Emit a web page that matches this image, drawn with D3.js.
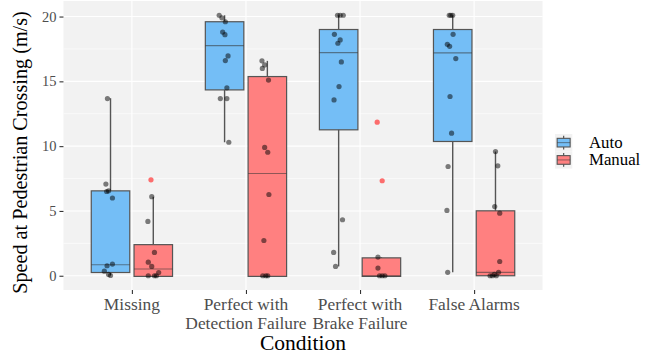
<!DOCTYPE html>
<html>
<head>
<meta charset="utf-8">
<style>
  body { margin: 0; background: #ffffff; }
  svg { display: block; }
  text { font-family: "Liberation Serif", "Times New Roman", serif; }
</style>
</head>
<body>
<div id="graph_div"></div>
<script src="https://d3js.org/d3.v7.min.js"></script>
<script>
// categories and groups
var conditions = ["Missing", "Perfect with Detection Failure", "Perfect with Brake Failure", "False Alarms"];
var tickLabels = [["Missing"], ["Perfect with", "Detection Failure"], ["Perfect with", "Brake Failure"], ["False Alarms"]];
var groups = ["Auto", "Manual"];
var yTicks = [0, 5, 10, 15, 20];
var yMinor = [2.5, 7.5, 12.5, 17.5];

// box statistics (one value per condition)
var autoLow  = [0.05, 10.3, 0.72, 0.26];
var autoQ1   = [0.25, 14.34, 11.26, 10.36];
var autoMed  = [0.85, 17.76, 17.22, 17.2];
var autoQ3   = [6.55, 19.6, 19.0, 19.0];
var autoHigh = [13.7, 20.1, 20.1, 20.1];

var manualLow  = [0, 0, 0, 0];
var manualQ1   = [-0.05, -0.05, -0.05, 0];
var manualMed  = [0.52, 7.89, 0, 0.26];
var manualQ3   = [2.4, 15.37, 1.38, 5.01];
var manualHigh = [6.1, 16.58, 1.44, 9.58];

// jittered observations: [value, jitter as share of box width]
var autoPoints = [
  [[13.67,-0.08],[7.07,-0.12],[6.5,-0.1],[6.55,-0.05],[6.0,0.05],[0.9,0.05],[0.77,-0.09],[0.35,-0.16],[0.1,-0.05],[0.02,0]],
  [[20.1,-0.14],[19.9,-0.07],[19.6,0.02],[18.8,-0.05],[18.6,0.01],[16.96,0.09],[16.6,0.02],[14.5,0.06],[13.67,-0.11],[13.67,0.06],[10.3,0.11]],
  [[20.1,-0.03],[20.1,0.04],[20.1,0.12],[18.63,-0.11],[18.2,0.04],[17.94,-0.02],[16.5,0.07],[14.6,0.01],[13.57,-0.12],[4.32,0.1],[1.8,-0.13],[0.72,-0.08]],
  [[20.1,-0.09],[20.1,-0.05],[20.1,0],[18.63,0.01],[17.86,-0.14],[17.7,-0.08],[16.76,0.08],[13.83,-0.07],[11.0,-0.03],[8.43,-0.12],[5.04,-0.15],[0.26,-0.13]]
];
var manualPoints = [
  [[6.1,-0.04],[4.19,-0.14],[1.8,0.03],[1.05,-0.13],[0.72,-0.04],[0.25,0.14],[0,-0.13],[0,0.03],[0,0.08]],
  [[16.58,-0.14],[16.27,-0.07],[16.0,-0.13],[15.1,0.03],[9.9,-0.07],[9.53,0.01],[6.27,0.04],[2.72,-0.09],[0,-0.12],[0,-0.04],[0,0.01]],
  [[1.44,-0.09],[0.59,-0.09],[0,-0.05],[0,0.02],[0,0.09]],
  [[9.58,0],[8.48,0.06],[5.34,-0.02],[4.83,0.11],[1.1,0.11],[0.26,0.08],[0.1,-0.03],[0,-0.14],[0,-0.08],[0,0.02]]
];
var manualOutliers = [
  [[7.4,-0.06]],
  [],
  [[11.85,-0.11],[7.33,0.02]],
  []
];

var fills = {"Auto": "#74bef6", "Manual": "#ff8080"};

var width = 652, height = 356;

var svg = d3.select("#graph_div")
  .append("svg")
    .attr("width", width)
    .attr("height", height);

// scales
var x = d3.scalePoint()
  .domain(conditions)
  .range([131.9, 474.1]);
var step = x.step();
var dodge = d3.scaleBand()
  .domain(groups)
  .range([-step * 0.375, step * 0.375]);
var boxW = dodge.bandwidth() * 0.9;

var y = d3.scaleLinear()
  .domain([-1.1, 21.2])
  .range([290, 1]);

var panelLeft = x(conditions[0]) - step * 0.6;
var panelRight = x(conditions[conditions.length - 1]) + step * 0.6;
var panelTop = y.range()[1], panelBottom = y.range()[0];

// panel background and grid
svg.append("rect")
  .attr("x", panelLeft)
  .attr("y", panelTop)
  .attr("width", panelRight - panelLeft)
  .attr("height", panelBottom - panelTop)
  .attr("fill", "#f2f2f2");

svg.selectAll(".minor")
  .data(yMinor)
  .enter().append("line")
    .attr("x1", panelLeft).attr("x2", panelRight)
    .attr("y1", function(d){ return y(d) }).attr("y2", function(d){ return y(d) })
    .attr("stroke", "#ffffff").attr("stroke-width", 0.6);

svg.selectAll(".major")
  .data(yTicks)
  .enter().append("line")
    .attr("x1", panelLeft).attr("x2", panelRight)
    .attr("y1", function(d){ return y(d) }).attr("y2", function(d){ return y(d) })
    .attr("stroke", "#ffffff").attr("stroke-width", 1.1);

svg.selectAll(".vmajor")
  .data(conditions)
  .enter().append("line")
    .attr("x1", function(d){ return x(d) }).attr("x2", function(d){ return x(d) })
    .attr("y1", panelTop).attr("y2", panelBottom)
    .attr("stroke", "#ffffff").attr("stroke-width", 1.1);

// reshape box stats into a list
var boxes = [];
conditions.forEach(function(c, i) {
  boxes.push({cond: c, group: "Auto", low: autoLow[i], q1: autoQ1[i], med: autoMed[i], q3: autoQ3[i], high: autoHigh[i],
              points: autoPoints[i], outliers: []});
  boxes.push({cond: c, group: "Manual", low: manualLow[i], q1: manualQ1[i], med: manualMed[i], q3: manualQ3[i], high: manualHigh[i],
              points: manualPoints[i], outliers: manualOutliers[i]});
});

function cx(d) { return x(d.cond) + dodge(d.group) + dodge.bandwidth() / 2; }

var bg = svg.selectAll(".box")
  .data(boxes)
  .enter().append("g");

// whiskers
bg.append("line")
  .attr("x1", cx).attr("x2", cx)
  .attr("y1", function(d){ return y(d.high) })
  .attr("y2", function(d){ return y(d.low) })
  .attr("stroke", "#555555").attr("stroke-width", 1.4);

bg.append("rect")
  .attr("x", function(d){ return cx(d) - boxW / 2 })
  .attr("y", function(d){ return y(d.q3) })
  .attr("width", boxW)
  .attr("height", function(d){ return y(d.q1) - y(d.q3) })
  .attr("fill", function(d){ return fills[d.group] })
  .attr("stroke", "#555555").attr("stroke-width", 1.2);

bg.append("line")
  .attr("x1", function(d){ return cx(d) - boxW / 2 })
  .attr("x2", function(d){ return cx(d) + boxW / 2 })
  .attr("y1", function(d){ return y(d.med) })
  .attr("y2", function(d){ return y(d.med) })
  .attr("stroke", "#333333").attr("stroke-opacity", 0.55).attr("stroke-width", 1.1);

// outliers in red
bg.selectAll(".out")
  .data(function(d){ return d.outliers.map(function(p){ return {v: p[0], j: p[1], c: cx(d)} }) })
  .enter().append("circle")
    .attr("cx", function(p){ return p.c + p.j * boxW })
    .attr("cy", function(p){ return y(p.v) })
    .attr("r", 2.6)
    .attr("fill", "#ff4040").attr("fill-opacity", 0.75);

// jittered points
bg.selectAll(".pt")
  .data(function(d){ return d.points.map(function(p){ return {v: p[0], j: p[1], c: cx(d)} }) })
  .enter().append("circle")
    .attr("cx", function(p){ return p.c + p.j * boxW })
    .attr("cy", function(p){ return y(p.v) })
    .attr("r", 2.6)
    .attr("fill", "#000000").attr("fill-opacity", 0.5);

// y axis
var yAxis = svg.append("g")
  .attr("transform", "translate(" + panelLeft + ",0)")
  .call(d3.axisLeft(y).tickValues(yTicks).tickSize(4).tickPadding(3));
yAxis.select(".domain").remove();
yAxis.selectAll("line").attr("stroke", "#333333").attr("stroke-width", 1.1);
yAxis.selectAll("text")
  .attr("fill", "#4d4d4d")
  .style("font-size", "14.5px")
  .style("font-family", "Liberation Serif");

// x axis with two-line labels
var xAxis = svg.append("g")
  .attr("transform", "translate(0," + panelBottom + ")")
  .call(d3.axisBottom(x).tickSize(4).tickFormat(""));
xAxis.select(".domain").remove();
xAxis.selectAll("line").attr("stroke", "#333333").attr("stroke-width", 1.1);

conditions.forEach(function(c, i) {
  var t = svg.append("text")
    .attr("text-anchor", "middle")
    .attr("fill", "#4d4d4d")
    .style("font-size", "17.4px");
  tickLabels[i].forEach(function(line, k) {
    t.append("tspan")
      .attr("x", x(c))
      .attr("y", 310 + k * 18.5)
      .text(line);
  });
});

// axis titles
svg.append("text")
  .attr("text-anchor", "middle")
  .attr("x", (panelLeft + panelRight) / 2)
  .attr("y", 350)
  .style("font-size", "21.5px")
  .attr("fill", "#000000")
  .text("Condition");

svg.append("text")
  .attr("text-anchor", "middle")
  .attr("transform", "translate(27," + ((panelTop + panelBottom) / 2 + 7) + ") rotate(-90)")
  .style("font-size", "20.2px")
  .attr("fill", "#000000")
  .text("Speed at Pedestrian Crossing (m/s)");

// legend
var legend = svg.append("g")
  .attr("transform", "translate(555,134)");
var keySize = 17.3;
var lg = legend.selectAll(".key")
  .data(groups)
  .enter().append("g")
    .attr("transform", function(d, i){ return "translate(0," + (i * keySize) + ")" });

lg.append("rect")
  .attr("width", keySize).attr("height", keySize)
  .attr("fill", "#f2f2f2");
lg.append("line")
  .attr("x1", keySize / 2).attr("x2", keySize / 2)
  .attr("y1", keySize * 0.1).attr("y2", keySize * 0.9)
  .attr("stroke", "#555555").attr("stroke-width", 1.2);
lg.append("rect")
  .attr("x", keySize * 0.125).attr("y", keySize * 0.25)
  .attr("width", keySize * 0.75).attr("height", keySize * 0.5)
  .attr("fill", function(d){ return fills[d] })
  .attr("stroke", "#555555").attr("stroke-width", 1.1);
lg.append("line")
  .attr("x1", keySize * 0.125).attr("x2", keySize * 0.875)
  .attr("y1", keySize / 2).attr("y2", keySize / 2)
  .attr("stroke", "#333333").attr("stroke-opacity", 0.55).attr("stroke-width", 1);
lg.append("text")
  .attr("x", 34)
  .attr("y", keySize / 2 + 5.5)
  .style("font-size", "16.8px")
  .attr("fill", "#000000")
  .text(function(d){ return d });
</script>
</body>
</html>
